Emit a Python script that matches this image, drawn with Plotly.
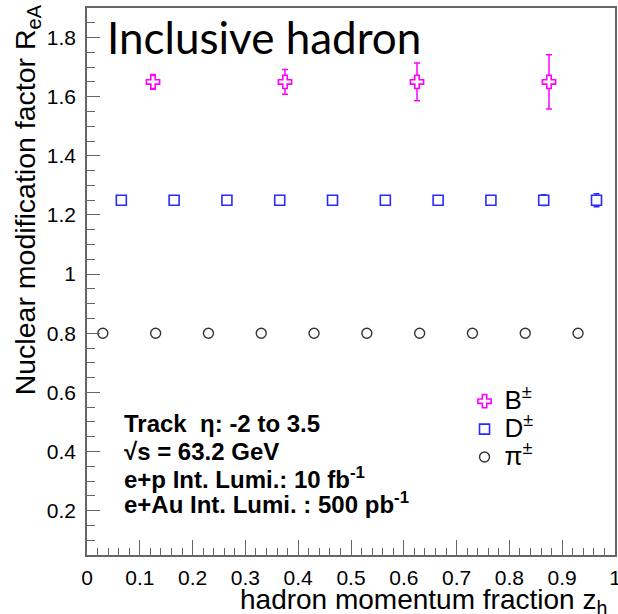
import plotly.graph_objects as go

# ---- data ----
b_x = [0.125, 0.375, 0.625, 0.875]
b_y = [1.65, 1.65, 1.65, 1.65]
b_err = [0.025, 0.042, 0.064, 0.092]

d_x = [0.065, 0.165, 0.265, 0.365, 0.465, 0.565, 0.665, 0.765, 0.865, 0.965]
d_y = [1.25, 1.25, 1.25, 1.25, 1.25, 1.25, 1.25, 1.25, 1.25, 1.25]
d_err = [0.0, 0.0, 0.0, 0.0, 0.0, 0.0, 0.0, 0.0, 0.018, 0.022]

pi_x = [0.03, 0.13, 0.23, 0.33, 0.43, 0.53, 0.63, 0.73, 0.83, 0.93]
pi_y = [0.8, 0.8, 0.8, 0.8, 0.8, 0.8, 0.8, 0.8, 0.8, 0.8]
pi_err = [0.0, 0.0, 0.0, 0.0, 0.0, 0.0, 0.0, 0.0, 0.0, 0.0]

x_ticks = [0, 0.1, 0.2, 0.3, 0.4, 0.5, 0.6, 0.7, 0.8, 0.9, 1]
x_ticklabels = ["0", "0.1", "0.2", "0.3", "0.4", "0.5", "0.6", "0.7", "0.8", "0.9", "1"]
y_ticks = [0.2, 0.4, 0.6, 0.8, 1.0, 1.2, 1.4, 1.6, 1.8]
y_ticklabels = ["0.2", "0.4", "0.6", "0.8", "1", "1.2", "1.4", "1.6", "1.8"]

info_lines = [
    "<b>Track  η: -2 to 3.5</b>",
    "<b>√s = 63.2 GeV</b>",
    "<b>e+p Int. Lumi.: 10 fb<sup>-1</sup></b>",
    "<b>e+Au Int. Lumi. : 500 pb<sup>-1</sup></b>",
]

MAG = "#ff00ff"
BLUE = "#2a2aff"
BLK = "#333333"
AX = "#666666"
FONT = "Liberation Sans, Arial, sans-serif"

def big(s):
    return "<span style='font-size:26px'>" + s + "</span>"

fig = go.Figure()
fig.add_trace(go.Scatter(
    x=b_x, y=b_y, mode="markers", name=big("B<sup>±</sup>"),
    marker=dict(symbol="cross", size=11, color="white", line=dict(color=MAG, width=1.6)),
    error_y=dict(type="data", array=b_err, visible=True, color=MAG, thickness=1.5, width=3),
))
fig.add_trace(go.Scatter(
    x=d_x, y=d_y, mode="markers", name=big("D<sup>±</sup>"),
    marker=dict(symbol="square", size=10, color="white", line=dict(color=BLUE, width=1.6)),
    error_y=dict(type="data", array=d_err, visible=True, color=BLUE, thickness=1.5, width=3),
))
fig.add_trace(go.Scatter(
    x=pi_x, y=pi_y, mode="markers", name=big("π<sup>±</sup>"),
    marker=dict(symbol="circle", size=10, color="white", line=dict(color=BLK, width=1.4)),
    error_y=dict(type="data", array=pi_err, visible=True, color=BLK, thickness=1.2, width=3),
))

fig.update_layout(
    width=618, height=614,
    margin=dict(l=87, r=3, t=8, b=59, autoexpand=False),
    paper_bgcolor="white", plot_bgcolor="white",
    font=dict(family=FONT, size=21, color="black"),
    showlegend=True,
    legend=dict(x=0.715, y=0.316, xanchor="left", yanchor="top",
                font=dict(family=FONT, size=19.2, color="black"),
                bgcolor="rgba(0,0,0,0)", tracegroupgap=0, itemwidth=30),
    xaxis=dict(range=[0, 1], tickvals=x_ticks, ticktext=x_ticklabels,
               ticks="inside", ticklen=15, tickwidth=1.3, tickcolor=AX,
               showline=True, linecolor=AX, linewidth=1.6, mirror=True,
               showgrid=False, zeroline=False, ticklabelstandoff=3,
               ticklabeloverflow="allow", automargin=False,
               tickfont=dict(family=FONT, size=21),
               minor=dict(dtick=0.02, tick0=0, ticks="inside", ticklen=7, tickcolor=AX, tickwidth=1.2, showgrid=False)),
    yaxis=dict(range=[0.05, 1.9], tickvals=y_ticks, ticktext=y_ticklabels,
               ticks="inside", ticklen=13, tickwidth=1.3, tickcolor=AX,
               showline=True, linecolor=AX, linewidth=1.6, mirror=True,
               showgrid=False, zeroline=False, ticklabelstandoff=5,
               automargin=False,
               tickfont=dict(family=FONT, size=21),
               minor=dict(dtick=0.05, tick0=0, ticks="inside", ticklen=8, tickcolor=AX, tickwidth=1.2, showgrid=False)),
)

# axis titles (ROOT style: aligned to the end of the axis)
fig.add_annotation(xref="paper", yref="paper", x=0.988, y=-0.085, xanchor="right", yanchor="middle",
                   text="hadron momentum fraction z<sub>h</sub>", showarrow=False,
                   font=dict(family=FONT, size=28, color="black"))
fig.add_annotation(xref="paper", yref="paper", x=-0.112, y=0.65, xanchor="center", yanchor="middle",
                   text="Nuclear modification factor R<sub>eA</sub>", textangle=-90, showarrow=False,
                   font=dict(family=FONT, size=28.5, color="black"))

# big title
fig.add_annotation(xref="paper", yref="paper", x=0.035, y=0.998, xanchor="left", yanchor="top",
                   text="Inclusive hadron", showarrow=False,
                   font=dict(family="Lato, Open Sans, sans-serif", size=44, color="black"))

# info block
info_y = [0.2395, 0.190, 0.1408, 0.0951]
for txt, yy in zip(info_lines, info_y):
    fig.add_annotation(xref="paper", yref="paper", x=0.066, y=yy, xanchor="left", yanchor="middle",
                       align="left", showarrow=False, text=txt,
                       font=dict(family=FONT, size=24, color="black"))

fig.write_html("out.html")
